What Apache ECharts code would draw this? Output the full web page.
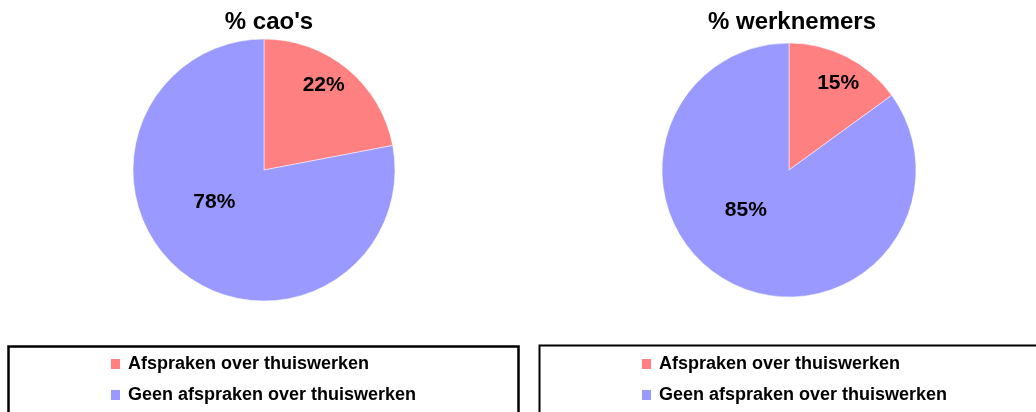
<!DOCTYPE html>
<html>
<head>
<meta charset="utf-8">
<script src="https://cdn.jsdelivr.net/npm/echarts@6/dist/echarts.min.js"></script>
<style>
    html, body { margin: 0; padding: 0; background: #fff; }
    #chart { width: 1036px; height: 412px; }
</style>
</head>
<body>
<div id="chart"></div>
<script>
    // data
    var categories = ['Afspraken over thuiswerken', 'Geen afspraken over thuiswerken'];
    var titles = ["% cao's", '% werknemers'];
    var caoValues = [22, 78];
    var werknemersValues = [15, 85];
    var colors = ['#FF8080', '#9999FF'];

    // label nudges (Excel puts the labels a bit off the bisector)
    var labelShift = [
        [[16, -32], [-6, -21]],
        [[19, -28], [-13, -19]]
    ];

    var fontFam = 'Liberation Sans, Arial, sans-serif';

    function toData(values) {
        var out = [];
        for (var i = 0; i < values.length; i++) {
            out.push({ name: categories[i], value: values[i], itemStyle: { color: colors[i] } });
        }
        return out;
    }

    function pieSeries(idx, values, center, radius) {
        return {
            type: 'pie',
            center: center,
            radius: radius,
            startAngle: 90,
            clockwise: true,
            silent: true,
            itemStyle: { borderColor: '#ffffff', borderWidth: 0.5 },
            label: {
                position: 'inside',
                formatter: '{c}%',
                color: '#000',
                fontFamily: fontFam,
                fontWeight: 'bold',
                fontSize: 21
            },
            labelLine: { show: false },
            labelLayout: function (params) {
                var s = labelShift[idx][params.dataIndex];
                return { dx: s[0], dy: s[1] };
            },
            data: toData(values)
        };
    }

    var chart = echarts.init(document.getElementById('chart'));

    var legendText = {
        color: '#000',
        fontFamily: fontFam,
        fontWeight: 'bold',
        fontSize: 18,
        padding: [0, 0, 0, 2]
    };

    var titleText = { fontFamily: fontFam, fontWeight: 'bold', fontSize: 24, color: '#000' };

    var option = {
        animation: false,
        title: [
            { text: titles[0], left: 264, top: 5, textAlign: 'center', textStyle: titleText },
            { text: titles[1], left: 787, top: 5, textAlign: 'center', textStyle: titleText }
        ],
        legend: [
            { orient: 'vertical', left: 104, top: 350, itemWidth: 11, itemHeight: 12, itemGap: 13,
              icon: 'rect', data: categories, textStyle: legendText, selectedMode: false },
            { orient: 'vertical', left: 635, top: 350, itemWidth: 11, itemHeight: 12, itemGap: 13,
              icon: 'rect', data: categories, textStyle: legendText, selectedMode: false }
        ],
        graphic: [
            { type: 'rect', shape: { x: 8.5, y: 346.5, width: 510, height: 80 },
              style: { fill: 'none', stroke: '#000', lineWidth: 2.5 } },
            { type: 'rect', shape: { x: 539.5, y: 345.5, width: 510, height: 80 },
              style: { fill: 'none', stroke: '#000', lineWidth: 2 } }
        ],
        series: [
            pieSeries(0, caoValues, [264, 170], 131),
            pieSeries(1, werknemersValues, [789, 170], 127)
        ]
    };

    chart.setOption(option);
</script>
</body>
</html>
